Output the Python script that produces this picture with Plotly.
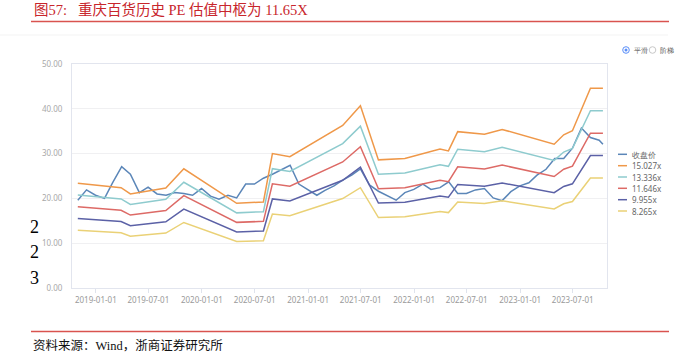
import calendar
import plotly.graph_objects as go

# ---------------- data ----------------
close_dates = []
for y in range(2018, 2024):
    for m in range(1, 13):
        if (y == 2018 and m < 10) or (y == 2023 and m > 9):
            continue
        close_dates.append(f"{y}-{m:02d}-{calendar.monthrange(y, m)[1]:02d}")
close_dates.append("2023-10-13")

close_price = [
    19.6, 21.9, 20.7,
    20.0, 23.5, 27.1, 25.4, 21.3, 22.5, 21.0, 20.7, 21.3, 21.1, 20.7, 22.2,
    20.5, 19.8, 20.7, 20.1, 23.2, 23.2, 24.5, 25.4, 26.3, 27.4, 23.2, 22.0,
    20.7, 21.8, 22.8, 24.1, 25.2, 26.6, 23.0, 21.6, 20.6, 19.6, 21.3, 22.0,
    23.2, 22.0, 22.4, 23.7, 21.1, 21.1, 21.9, 22.2, 20.1, 19.5, 21.5, 22.8,
    23.5, 25.2, 26.5, 28.9, 28.9, 31.2, 35.7, 33.6, 33.0,
    32.1,
]

band_dates = ["2018-10-31", "2019-03-29", "2019-04-30", "2019-08-30", "2019-10-31",
              "2020-04-30", "2020-07-31", "2020-08-31", "2020-10-30", "2021-04-30",
              "2021-06-30", "2021-08-31", "2021-11-30", "2022-03-31", "2022-04-29",
              "2022-05-31", "2022-08-31", "2022-10-31", "2023-04-28", "2023-05-31",
              "2023-06-30", "2023-08-31", "2023-10-13"]

pe_15027 = [23.4, 22.4, 21.0, 22.3, 26.6, 18.9, 19.2, 30.0, 29.3, 36.3, 40.7, 28.6,
            28.9, 31.0, 30.6, 34.9, 34.3, 35.4, 32.1, 34.2, 35.1, 44.6, 44.6]
pe_13336 = [20.77, 19.88, 18.64, 19.79, 23.61, 16.77, 17.04, 26.63, 26.00, 32.22, 36.12,
            25.38, 25.65, 27.51, 27.16, 30.97, 30.44, 31.42, 28.49, 30.35, 31.15, 39.58, 39.58]
pe_11646 = [18.14, 17.36, 16.28, 17.28, 20.62, 14.65, 14.88, 23.25, 22.71, 28.13, 31.54,
            22.17, 22.40, 24.03, 23.72, 27.05, 26.58, 27.44, 24.88, 26.51, 27.20, 34.57, 34.57]
pe_9955 = [15.50, 14.84, 13.91, 14.77, 17.62, 12.52, 12.72, 19.88, 19.41, 24.05, 26.96,
           18.95, 19.15, 20.54, 20.27, 23.12, 22.72, 23.45, 21.27, 22.66, 23.25, 29.55, 29.55]
pe_8265 = [12.87, 12.32, 11.55, 12.27, 14.63, 10.40, 10.56, 16.50, 16.12, 19.97, 22.39,
           15.73, 15.90, 17.05, 16.83, 19.20, 18.87, 19.47, 17.66, 18.81, 19.31, 24.53, 24.53]

series_names = ["收盘价", "15.027x", "13.336x", "11.646x", "9.955x", "8.265x"]
series_colors = ["#5b86b8", "#ef9849", "#8ecbce", "#dd6a66", "#5b61a6", "#ead176"]

x_tick_vals = ["2019-01-01", "2019-07-01", "2020-01-01", "2020-07-01", "2021-01-01",
               "2021-07-01", "2022-01-01", "2022-07-01", "2023-01-01", "2023-07-01"]

title_text = "图57:\u00a0\u00a0\u00a0重庆百货历史 PE 估值中枢为 11.65X"
source_text = "资料来源：Wind，浙商证券研究所"
side_marks = ["2", "2", "3"]
mode_labels = ["平滑", "阶梯"]

# ---------------- figure ----------------
fig = go.Figure()
fig.add_trace(go.Scatter(x=close_dates, y=close_price, mode="lines", name=series_names[0],
                         line=dict(color=series_colors[0], width=1.5)))
for name, vals, col in zip(series_names[1:], [pe_15027, pe_13336, pe_11646, pe_9955, pe_8265],
                           series_colors[1:]):
    fig.add_trace(go.Scatter(x=band_dates, y=vals, mode="lines", name=name,
                             line=dict(color=col, width=1.5)))

W, H = 679, 356
PX0, PX1, PY0, PY1 = 72, 607, 64, 288   # plot area in window pixels
L, R, T, B = PX0, W - PX1, PY0, H - PY1
PW = PX1 - PX0
PH = PY1 - PY0

fig.update_layout(
    width=W, height=H,
    margin=dict(l=L, r=R, t=T, b=B),
    plot_bgcolor="white", paper_bgcolor="white",
    showlegend=False,
    font=dict(family="Noto Sans, sans-serif"),
)
fig.update_xaxes(
    type="date", range=["2018-10-11", "2023-10-27"],
    tickvals=x_tick_vals, ticktext=x_tick_vals,
    ticks="outside", ticklen=4, tickcolor="#dfe3ec",
    showgrid=False, showline=True, linecolor="#e2e5ee", mirror=True,
    tickfont=dict(size=8, color="#9a9a9a"),
)
fig.update_yaxes(
    range=[0, 50], dtick=10, tickformat=".2f",
    showgrid=True, gridcolor="#f0f0f2", zeroline=False,
    showline=True, linecolor="#e2e5ee", mirror=True,
    ticks="", ticklabelstandoff=7,
    tickfont=dict(size=8, color="#a8a8a8"),
)


def px(x):
    return (x - PX0) / PW


def py(y):
    return (PY1 - y) / PH


shapes = []
ann = []

# title and red rules
ann.append(dict(text=title_text, x=px(32), y=py(10.5), xref="paper", yref="paper",
                xanchor="left", yanchor="middle", showarrow=False,
                font=dict(family="Liberation Serif, Noto Sans CJK SC", size=14.5, color="#c8262c")))
for yy in (21.5, 331.5):
    shapes.append(dict(type="line", xref="paper", yref="paper", x0=px(31), x1=px(669),
                       y0=py(yy), y1=py(yy), line=dict(color="#d9534f", width=1.5)))
shapes.append(dict(type="line", xref="paper", yref="paper", x0=px(0), x1=px(668),
                   y0=py(35), y1=py(35), line=dict(color="#f3f3f3", width=1)))
ann.append(dict(text=source_text, x=px(31), y=py(345), xref="paper", yref="paper",
                xanchor="left", yanchor="middle", showarrow=False,
                font=dict(family="Liberation Serif, Noto Sans CJK SC", size=12.5, color="#111111")))

# left stray marks
for txt, yy in zip(side_marks, [226.7, 251.7, 277.7]):
    ann.append(dict(text=txt, x=px(34.5), y=py(yy), xref="paper", yref="paper",
                    xanchor="center", yanchor="middle", showarrow=False,
                    font=dict(family="Liberation Serif", size=18, color="#000000")))

# radio legend (平滑 / 阶梯)
c1, c2, ry, rr = 626, 652.5, 50, 3.3
shapes.append(dict(type="circle", xref="paper", yref="paper",
                   x0=px(c1 - rr), x1=px(c1 + rr), y0=py(ry + rr), y1=py(ry - rr),
                   line=dict(color="#5b8ff9", width=1)))
shapes.append(dict(type="circle", xref="paper", yref="paper",
                   x0=px(c1 - 1.5), x1=px(c1 + 1.5), y0=py(ry + 1.5), y1=py(ry - 1.5),
                   fillcolor="#5b8ff9", line=dict(color="#5b8ff9", width=0)))
shapes.append(dict(type="circle", xref="paper", yref="paper",
                   x0=px(c2 - rr), x1=px(c2 + rr), y0=py(ry + rr), y1=py(ry - rr),
                   line=dict(color="#c8c8c8", width=1)))
for lab, xx in zip(mode_labels, [c1 + 5.5, c2 + 5.5]):
    ann.append(dict(text=lab, x=px(xx), y=py(ry), xref="paper", yref="paper",
                    xanchor="left", yanchor="middle", showarrow=False,
                    font=dict(size=7, color="#595959")))

# series legend
leg_y = [154.3, 165.7, 177, 188.3, 199.7, 211]
for name, col, yy in zip(series_names, series_colors, leg_y):
    shapes.append(dict(type="line", xref="paper", yref="paper", x0=px(618), x1=px(627),
                       y0=py(yy), y1=py(yy), line=dict(color=col, width=1.5)))
    ann.append(dict(text=name, x=px(630), y=py(yy), xref="paper", yref="paper",
                    xanchor="left", yanchor="middle", showarrow=False,
                    font=dict(size=8, color="#666666")))

fig.update_layout(shapes=shapes, annotations=ann)
fig.write_html("out.html", config={"displayModeBar": False},
               post_script="document.body.style.margin='0px';")
